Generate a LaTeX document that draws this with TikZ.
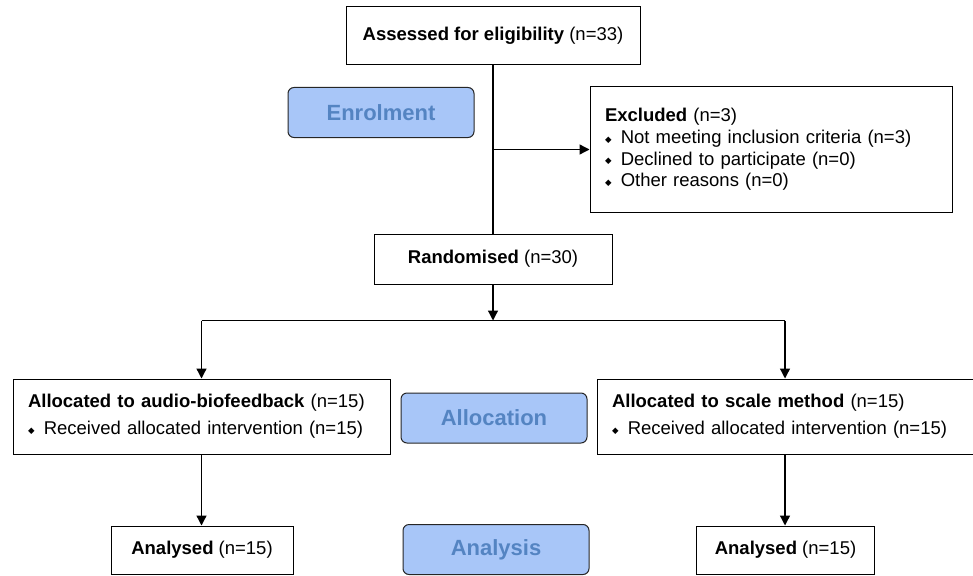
\documentclass[tikz,border=0pt]{standalone}
\usepackage{fontspec}
\setmainfont{Liberation Sans}
\newfontfamily\symfont{DejaVu Sans}
\usepackage{tikz}
\usetikzlibrary{arrows.meta,positioning,calc}
\usepackage{xcolor}

\definecolor{stagefill}{RGB}{168,198,248}
\definecolor{stagetext}{RGB}{84,132,194}
\newcommand{\dbul}{{\symfont\fontsize{8.5}{8.5}\selectfont\raisebox{0.3ex}{◆}}\hspace{0.5em}}

\tikzset{
  box/.style={draw, line width=1pt, inner xsep=15pt, inner ysep=0pt,
    font=\fontsize{18.5}{22}\selectfont},
  stage/.style={draw=black!85, line width=1pt, fill=stagefill, rounded corners=6pt,
    text=stagetext, font=\bfseries\fontsize{22}{26}\selectfont,
    minimum width=186pt, minimum height=50pt, inner sep=0pt},
  arr/.style={-{Triangle[length=10pt,width=10pt]}, line width=1.3pt},
  conn/.style={line width=1.3pt}
}

\begin{document}
\begin{tikzpicture}[x=1pt,y=-1pt]
    \useasboundingbox (0,0) rectangle (973,575);
    % stage labels
    \node[stage] (enrol) at (381,112.5) {Enrolment};
    \node[stage] (alloc) at (494,418) {Allocation};
    \node[stage] (anal) at (496,549.5) {Analysis};
    % enrolment
    \node[box, minimum width=294pt, minimum height=58pt] (assessed) at (493,36)
        {\textbf{Assessed for eligibility} (n=33)};
    \node[box, minimum width=362pt, minimum height=125pt, text width=332pt,
          align=left, font=\fontsize{18.5}{21.7}\selectfont] (excluded) at (771,149.5)
        {\textbf{Excluded} (n=3)\\
         \dbul Not meeting inclusion criteria (n=3)\\
         \dbul Declined to participate (n=0)\\
         \dbul Other reasons (n=0)\\[6pt]};
    \node[box, minimum width=238pt, minimum height=50pt] (random) at (493,259)
        {\textbf{Randomised} (n=30)};
    % allocation
    \node[box, minimum width=377pt, minimum height=75pt, text width=347pt,
          align=left, font=\fontsize{18.5}{27}\selectfont] (allocA) at (201.5,416.5)
        {\textbf{Allocated to audio-biofeedback} (n=15)\\
         \dbul Received allocated intervention (n=15)};
    \node[box, minimum width=374pt, minimum height=75pt, text width=346pt,
          align=left, font=\fontsize{18.5}{27}\selectfont] (allocB) at (785,416.5)
        {\textbf{Allocated to scale method} (n=15)\\
         \dbul Received allocated intervention (n=15)};
    % analysis
    \node[box, minimum width=182pt, minimum height=48pt] (analA) at (202,550)
        {\textbf{Analysed} (n=15)};
    \node[box, minimum width=178pt, minimum height=48pt] (analB) at (785.5,550)
        {\textbf{Analysed} (n=15)};
    % connectors
    \coordinate (split) at (493,320.5);
    \draw[conn] (assessed) -- (random);
    \draw[arr] (assessed.south |- excluded.west) -- (excluded.west);
    \draw[arr] (random) -- (split);
    \draw[conn] (allocA.north |- split) -- (allocB.north |- split);
    \draw[arr] (allocA.north |- split) -- (allocA.north);
    \draw[arr] (allocB.north |- split) -- (allocB.north);
    \draw[arr] (allocA.south) -- (allocA.south |- analA.north);
    \draw[arr] (allocB.south) -- (allocB.south |- analB.north);
\end{tikzpicture}
\end{document}
